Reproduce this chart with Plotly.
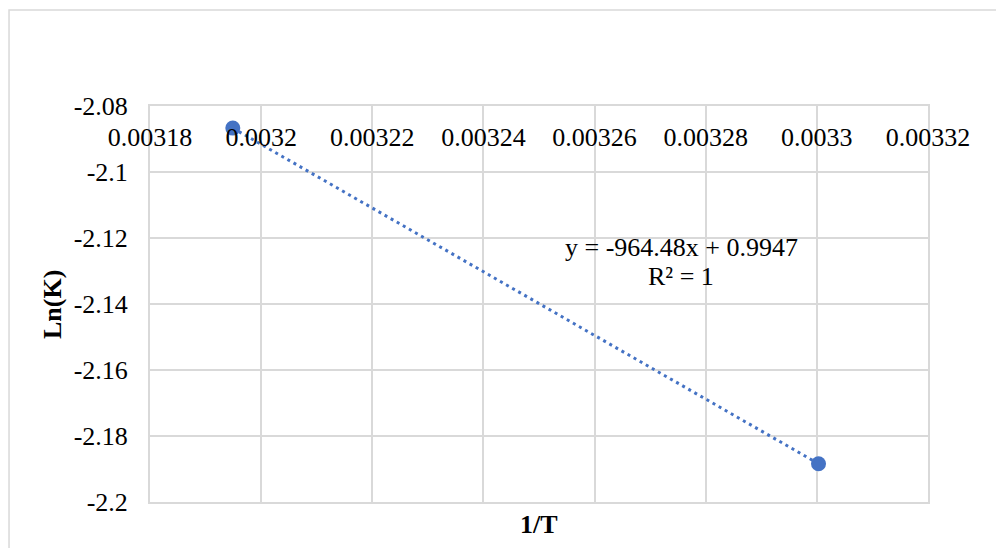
import numpy as np
import plotly.graph_objects as go

# Data
inv_T = [0.0031949, 0.0033003]
ln_K = [-2.0867, -2.1884]

x_ticks = [0.00318, 0.0032, 0.00322, 0.00324, 0.00326, 0.00328, 0.0033, 0.00332]
x_tick_text = ["0.00318", "0.0032", "0.00322", "0.00324", "0.00326", "0.00328", "0.0033", "0.00332"]
y_ticks = [-2.08, -2.1, -2.12, -2.14, -2.16, -2.18, -2.2]
y_tick_text = ["-2.08", "-2.1", "-2.12", "-2.14", "-2.16", "-2.18", "-2.2"]

equation_line = "y = -964.48x + 0.9947"
r2_line = "R² = 1"
x_title = "1/T"
y_title = "Ln(K)"

# Linear trendline from the data
coef = np.polyfit(inv_T, ln_K, 1)
trend_x = np.array([min(inv_T), max(inv_T)])
trend_y = np.polyval(coef, trend_x)

BLUE = "#4472C4"
GRID = "#d9d9d9"
FONT = "Liberation Serif, Times New Roman, serif"
FS = 26

fig = go.Figure()
fig.add_trace(go.Scatter(
    x=trend_x, y=trend_y, mode="lines",
    line=dict(color=BLUE, width=3, dash="3px,4px"),
    hoverinfo="skip", showlegend=False,
))
fig.add_trace(go.Scatter(
    x=inv_T, y=ln_K, mode="markers",
    marker=dict(color=BLUE, size=15),
    showlegend=False,
))

fig.add_annotation(
    x=0.0032756, y=-2.1230, xref="x", yref="y",
    text=equation_line, showarrow=False,
    font=dict(family=FONT, size=FS, color="#000000"),
)
fig.add_annotation(
    x=0.0032756, y=-2.1318, xref="x", yref="y",
    text=r2_line, showarrow=False,
    font=dict(family=FONT, size=FS, color="#000000"),
)

# Outer chart border
fig.add_shape(
    type="rect", xref="paper", yref="paper",
    x0=-0.1812, x1=1.11, y0=-0.14, y1=1.2424,
    line=dict(color=GRID, width=1.5), fillcolor="rgba(0,0,0,0)", layer="below",
)

fig.update_layout(
    width=996, height=540,
    margin=dict(l=142, r=76, t=98, b=46),
    paper_bgcolor="white", plot_bgcolor="white",
    font=dict(family=FONT, size=FS, color="#000000"),
    showlegend=False,
    xaxis=dict(
        range=[0.00318, 0.00332], side="top",
        tickmode="array", tickvals=x_ticks, ticktext=x_tick_text,
        ticklabelposition="inside", ticklabeloverflow="allow",
        ticks="inside", ticklen=24, tickcolor="rgba(0,0,0,0)",
        showgrid=True, gridcolor=GRID, gridwidth=2,
        zeroline=False, showline=True, mirror=True, linecolor=GRID, linewidth=2,
        tickfont=dict(family=FONT, size=FS, color="#000000"),
        title=None,
    ),
    yaxis=dict(
        range=[-2.2, -2.08],
        tickmode="array", tickvals=y_ticks, ticktext=y_tick_text,
        ticks="outside", ticklen=15, tickcolor="rgba(0,0,0,0)",
        showgrid=True, gridcolor=GRID, gridwidth=2,
        zeroline=False, showline=True, mirror=True, linecolor=GRID, linewidth=2,
        tickfont=dict(family=FONT, size=FS, color="#000000"),
        title=None,
    ),
)

# Axis titles
fig.add_annotation(
    x=0.5, y=-0.0556, xref="paper", yref="paper", yanchor="middle",
    text="<b>" + x_title + "</b>", showarrow=False,
    font=dict(family=FONT, size=FS, color="#000000"),
)
fig.add_annotation(
    x=-0.126, y=0.5, xref="paper", yref="paper", xanchor="center", yanchor="middle",
    text="<b>" + y_title + "</b>", showarrow=False, textangle=-90,
    font=dict(family=FONT, size=FS, color="#000000"),
)

fig.write_html("out.html")
